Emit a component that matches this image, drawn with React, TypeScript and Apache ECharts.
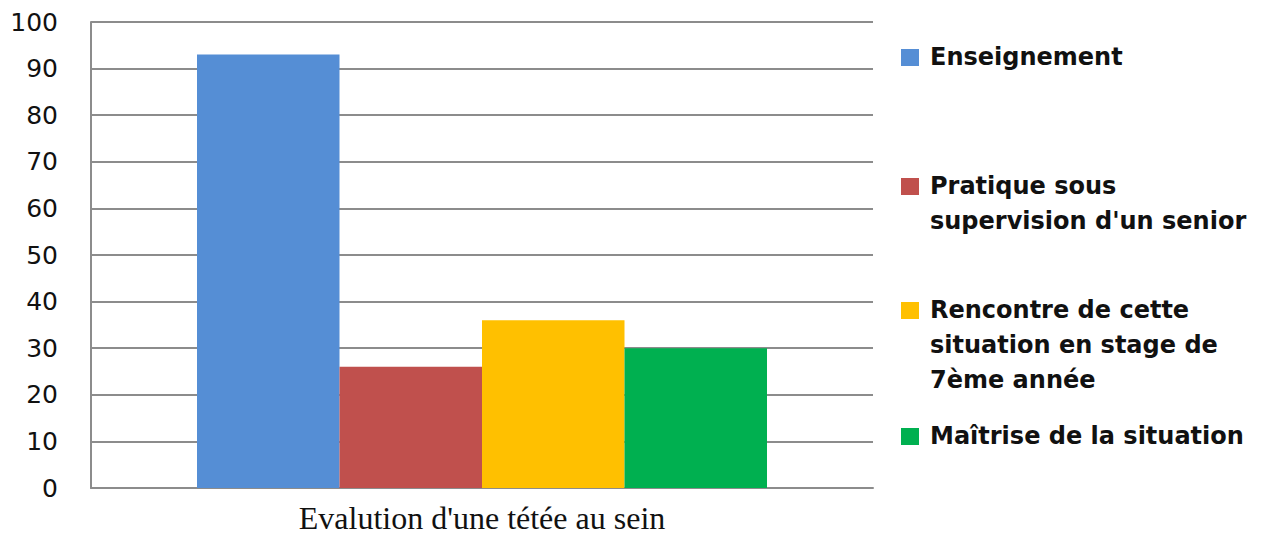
import React, { useEffect, useRef } from "react";
import * as echarts from "echarts";

const categories = ["Evalution d'une tétée au sein"];
const seriesNames = [
  "Enseignement",
  "Pratique sous supervision d'un senior",
  "Rencontre de cette situation en stage de 7ème année",
  "Maîtrise de la situation",
];
const legendLines = [
  ["Enseignement"],
  ["Pratique sous", "supervision d'un senior"],
  ["Rencontre de cette", "situation en stage de", "7ème année"],
  ["Maîtrise de la situation"],
];
const seriesValues = [[93], [26], [36], [30]];
const colors = ["#558ED5", "#C0504D", "#FFC000", "#00B050"];
const yTicks = [0, 10, 20, 30, 40, 50, 60, 70, 80, 90, 100];
const legendTops = [57, 186, 310, 436];

export default function App() {
  const ref = useRef<HTMLDivElement>(null);
  useEffect(() => {
    if (!ref.current) return;
    const chart = echarts.init(ref.current, null, { renderer: "svg" });
    const graphics: any[] = [];
    legendLines.forEach((lines, i) => {
      const cy = legendTops[i];
      graphics.push({
        type: "rect",
        left: 901,
        top: cy - 8,
        shape: { width: 18, height: 17 },
        style: { fill: colors[i] },
      });
      graphics.push({
        type: "text",
        left: 930,
        top: cy - 17.5,
        style: {
          text: lines.join("\n"),
          font: "bold 24px 'DejaVu Sans', sans-serif",
          lineHeight: 35,
          fill: "#111",
        },
      });
    });
    chart.setOption({
      animation: false,
      grid: { left: 91, top: 22, width: 782, height: 466, containLabel: false },
      legend: { show: false },
      xAxis: {
        type: "category",
        data: categories,
        axisLine: { show: true, lineStyle: { color: "#8c8c8c", width: 2 } },
        axisTick: { show: false },
        axisLabel: {
          fontFamily: "'Liberation Serif', 'Times New Roman', serif",
          fontSize: 32,
          color: "#111",
          margin: 14,
        },
      },
      yAxis: {
        type: "value",
        min: 0,
        max: 100,
        interval: 10,
        axisLine: { show: true, lineStyle: { color: "#8c8c8c", width: 2 } },
        axisTick: { show: false },
        axisLabel: {
          fontFamily: "'DejaVu Sans', sans-serif",
          fontSize: 25,
          color: "#111",
          margin: 33,
          formatter: (v: number) => (yTicks.includes(v) ? String(v) : ""),
        },
        splitLine: { lineStyle: { color: "#8c8c8c", width: 2 } },
      },
      series: seriesNames.map((name, i) => ({
        name,
        type: "bar",
        data: seriesValues[i],
        barWidth: 142.5,
        barGap: "0%",
        itemStyle: { color: colors[i] },
      })),
      graphic: graphics,
    });
    return () => chart.dispose();
  }, []);
  return (
    <div
      ref={ref}
      style={{ position: "fixed", left: 0, top: 0, width: 1268, height: 538, background: "#fff" }}
    />
  );
}
